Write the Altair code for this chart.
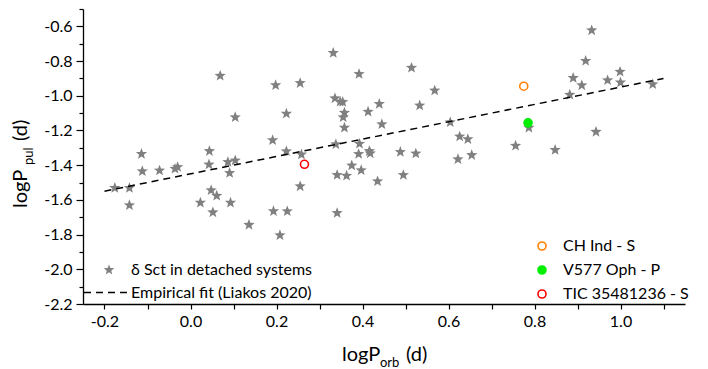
import altair as alt
import pandas as pd

# ---- data ----
star_x = [0.069, 0.198, 0.104, 0.223, 0.191, -0.114, 0.044, -0.112, -0.072, -0.036,
          -0.030, 0.043, 0.087, 0.104, 0.091, -0.176, -0.142, -0.142, 0.048, 0.061,
          0.023, 0.093, 0.052, 0.136, 0.193, 0.208, 0.225, 0.255, 0.332, 0.392,
          0.336, 0.348, 0.354, 0.358, 0.355, 0.358, 0.413, 0.439, 0.445, 0.223,
          0.258, 0.338, 0.393, 0.391, 0.416, 0.418, 0.375, 0.397, 0.341, 0.363,
          0.435, 0.488, 0.524, 0.495, 0.514, 0.568, 0.533, 0.604, 0.626, 0.645,
          0.622, 0.654, 0.255, 0.341, 0.756, 0.787, 0.848, 0.919, 0.933, 0.890,
          0.910, 0.882, 0.970, 0.999, 1.000, 1.075, 0.943]
star_y = [-0.885, -0.939, -1.124, -1.103, -1.256, -1.335, -1.319, -1.435, -1.431, -1.421,
          -1.411, -1.396, -1.382, -1.373, -1.445, -1.531, -1.531, -1.631, -1.545, -1.576,
          -1.616, -1.616, -1.672, -1.744, -1.665, -1.804, -1.666, -0.927, -0.753, -0.875,
          -1.015, -1.034, -1.036, -1.098, -1.124, -1.184, -1.092, -1.047, -1.164, -1.320,
          -1.338, -1.280, -1.277, -1.336, -1.319, -1.332, -1.402, -1.429, -1.457, -1.461,
          -1.493, -1.324, -1.333, -1.457, -0.839, -0.970, -1.056, -1.153, -1.235, -1.250,
          -1.366, -1.342, -1.522, -1.676, -1.288, -1.184, -1.312, -0.799, -0.623, -0.897,
          -0.940, -0.994, -0.911, -0.862, -0.923, -0.934, -1.208]
star_label = "δ Sct in detached systems"

fit_x = [-0.2, 1.1]
fit_y = [-1.55, -0.9]
fit_label = "Empirical fit (Liakos 2020)"

obj_names = ["CH Ind - S", "V577 Oph - P", "TIC 35481236 - S"]
obj_x = [0.775, 0.785, 0.265]
obj_y = [-0.945, -1.156, -1.395]
obj_stroke = ["#FF8000", "#00EE00", "#FF0000"]
obj_fill = ["white", "#00EE00", "white"]

x_ticks = [-0.2, -0.1, 0.0, 0.1, 0.2, 0.3, 0.4, 0.5, 0.6, 0.7, 0.8, 0.9, 1.0, 1.1]
y_major = [-2.2, -2.0, -1.8, -1.6, -1.4, -1.2, -1.0, -0.8, -0.6]
y_minor = [-2.1, -1.9, -1.7, -1.5, -1.3, -1.1, -0.9, -0.7, -0.5]

FONT = "Lato"
STAR = ("M0,-1L0.2469,-0.3398L0.9511,-0.309L0.3995,0.1298L0.5878,0.809L0,0.42"
        "L-0.5878,0.809L-0.3995,0.1298L-0.9511,-0.309L-0.2469,-0.3398Z")

xs = alt.Scale(domain=[-0.25, 1.15], nice=False, zero=False)
ys = alt.Scale(domain=[-2.2, -0.5], nice=False, zero=False)

x_axis = alt.Axis(values=x_ticks, tickSize=5, tickColor="black", tickWidth=1.2,
                  domainColor="black", domainWidth=1.3, grid=False, title=None,
                  labelFont=FONT, labelFontSize=16, labelColor="black", labelPadding=4,
                  labelExpr="abs(round(datum.value*10)) % 2 == 0 ? replace(format(datum.value, '.1f'), '−', '-') : ''",
                  orient="bottom")
y_axis_major = alt.Axis(values=y_major, tickSize=7, tickColor="black", tickWidth=1.2,
                        domainColor="black", domainWidth=1.3, grid=False, title=None,
                        labelFont=FONT, labelFontSize=16, labelColor="black", labelPadding=4,
                        labelExpr="replace(format(datum.value, '.1f'), '−', '-')",
                        orient="left")
y_axis_minor = alt.Axis(values=y_minor, tickSize=4, tickColor="black", tickWidth=1.2,
                        domain=False, grid=False, title=None, labels=False, orient="left")

stars_df = pd.DataFrame({"x": star_x, "y": star_y, "kind": star_label})
fit_df = pd.DataFrame({"x": fit_x, "y": fit_y, "kind": fit_label})
obj_df = pd.DataFrame({"x": obj_x, "y": obj_y, "name": obj_names})

stars = alt.Chart(stars_df).mark_point(filled=True, color="#808080", size=140, opacity=1,
                                       strokeWidth=0).encode(
    x=alt.X("x:Q", scale=xs, axis=x_axis),
    y=alt.Y("y:Q", scale=ys, axis=y_axis_major),
    shape=alt.Shape("kind:N", scale=alt.Scale(domain=[star_label], range=[STAR]),
                    legend=alt.Legend(title=None, orient="none", legendX=18, legendY=253,
                                      padding=0, labelFont=FONT, labelFontSize=16,
                                      labelColor="black", labelOffset=14, labelLimit=0,
                                      symbolSize=125, symbolFillColor="#808080",
                                      symbolStrokeWidth=0, symbolOpacity=1)),
)

fit = alt.Chart(fit_df).mark_line(color="black", strokeWidth=1.5).encode(
    x=alt.X("x:Q", scale=xs, axis=x_axis),
    y=alt.Y("y:Q", scale=ys, axis=y_axis_minor),
    strokeDash=alt.StrokeDash("kind:N", scale=alt.Scale(domain=[fit_label], range=[[7, 5]]),
                              legend=alt.Legend(title=None, orient="none", legendX=0,
                                                legendY=260, padding=0, labelFont=FONT,
                                                labelFontSize=16, labelColor="black",
                                                labelOffset=1, labelLimit=0,
                                                symbolType="stroke",
                                                symbolSize=2025, symbolStrokeWidth=1.5,
                                                symbolStrokeColor="black")),
)

obj_legend = alt.Legend(title=None, orient="none", legendX=451, legendY=229, padding=0,
                        labelFont=FONT, labelFontSize=16, labelColor="black", labelOffset=13,
                        labelLimit=0, symbolSize=64, symbolStrokeWidth=1.6, rowPadding=8,
                        symbolType="circle")
objs = alt.Chart(obj_df).mark_point(shape="circle", size=64, strokeWidth=1.6, opacity=1).encode(
    x=alt.X("x:Q", scale=xs, axis=x_axis),
    y=alt.Y("y:Q", scale=ys, axis=None),
    stroke=alt.Stroke("name:N", scale=alt.Scale(domain=obj_names, range=obj_stroke),
                      legend=obj_legend),
    fill=alt.Fill("name:N", scale=alt.Scale(domain=obj_names, range=obj_fill),
                  legend=obj_legend),
)

def txt(s, x, y, size, angle=0):
    return alt.Chart(pd.DataFrame({"t": [s]})).mark_text(
        font=FONT, fontSize=size, color="black", align="left", baseline="alphabetic",
        angle=angle).encode(text="t:N", x=alt.value(x), y=alt.value(y))

# axis titles with subscripts
xt1 = txt("logP", 259, 352, 20)
xt2 = txt("orb", 297, 358, 13)
xt3 = txt("(d)", 323, 352, 20)
yt1 = txt("logP", -56, 199, 20, angle=270)
yt2 = txt("pul", -50, 156, 13, angle=270)
yt3 = txt("(d)", -56, 132, 20, angle=270)

chart = alt.layer(stars, fit, objs, xt1, xt2, xt3, yt1, yt2, yt3).resolve_axis(
    y="independent"
).properties(
    width=602, height=295,
    autosize=alt.AutoSizeParams(type="none"),
    padding={"left": 83, "top": 9, "right": 23, "bottom": 65},
    background="white",
).configure_view(stroke=None)

chart.save("out.html", embed_options={"renderer": "svg", "actions": False})
